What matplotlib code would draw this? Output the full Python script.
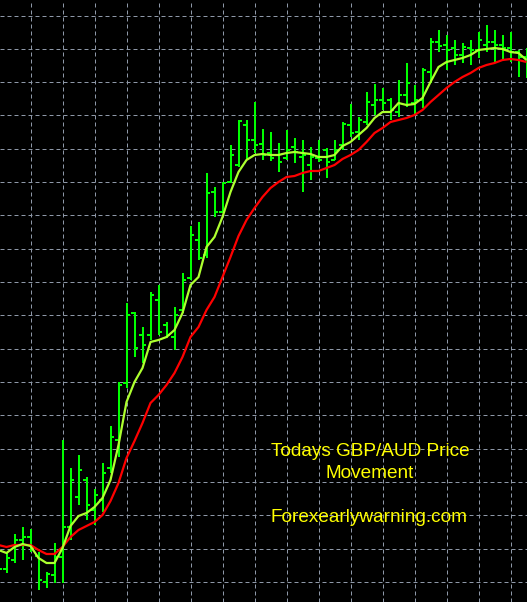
import matplotlib
matplotlib.use("Agg")
import matplotlib.pyplot as plt
import numpy as np

# ---- data (GBP/AUD, bar index 0 is the partly hidden leftmost bar) ----
opens = [1.8442, 1.8433, 1.8442, 1.8462, 1.8465, 1.8446, 1.8420, 1.8427, 1.8445, 1.8475,
         1.8505, 1.8522, 1.8492, 1.8502, 1.8534, 1.8562, 1.8619, 1.8689, 1.8667, 1.8667,
         1.8702, 1.8677, 1.8665, 1.8692, 1.8724, 1.8762, 1.8747, 1.8810, 1.8790, 1.8820,
         1.8837, 1.8877, 1.8862, 1.8858, 1.8849, 1.8847, 1.8844, 1.8855, 1.8845, 1.8837,
         1.8844, 1.8852, 1.8842, 1.8857, 1.8877, 1.8870, 1.8880, 1.8897, 1.8902, 1.8902,
         1.8890, 1.8907, 1.8899, 1.8902, 1.8930, 1.8960, 1.8957, 1.8954, 1.8947, 1.8954,
         1.8952, 1.8957, 1.8960, 1.8957, 1.8954, 1.8950, 1.8945]
highs = [1.8454, 1.8450, 1.8468, 1.8475, 1.8473, 1.8450, 1.8430, 1.8459, 1.8562, 1.8534,
         1.8547, 1.8525, 1.8513, 1.8539, 1.8576, 1.8620, 1.8699, 1.8690, 1.8675, 1.8710,
         1.8717, 1.8680, 1.8695, 1.8729, 1.8776, 1.8780, 1.8829, 1.8815, 1.8820, 1.8857,
         1.8882, 1.8882, 1.8900, 1.8873, 1.8870, 1.8859, 1.8872, 1.8864, 1.8862, 1.8855,
         1.8862, 1.8854, 1.8862, 1.8880, 1.8898, 1.8885, 1.8910, 1.8918, 1.8914, 1.8904,
         1.8922, 1.8939, 1.8917, 1.8934, 1.8964, 1.8972, 1.8967, 1.8962, 1.8959, 1.8962,
         1.8970, 1.8977, 1.8972, 1.8967, 1.8970, 1.8952, 1.8954]
lows = [1.8430, 1.8429, 1.8439, 1.8442, 1.8450, 1.8412, 1.8414, 1.8419, 1.8419, 1.8462,
        1.8497, 1.8482, 1.8477, 1.8490, 1.8529, 1.8545, 1.8614, 1.8645, 1.8639, 1.8662,
        1.8667, 1.8664, 1.8652, 1.8689, 1.8722, 1.8742, 1.8744, 1.8785, 1.8790, 1.8819,
        1.8835, 1.8842, 1.8849, 1.8842, 1.8841, 1.8830, 1.8842, 1.8839, 1.8810, 1.8822,
        1.8840, 1.8824, 1.8842, 1.8852, 1.8865, 1.8862, 1.8877, 1.8887, 1.8892, 1.8882,
        1.8885, 1.8895, 1.8887, 1.8894, 1.8919, 1.8950, 1.8932, 1.8937, 1.8939, 1.8937,
        1.8944, 1.8950, 1.8940, 1.8942, 1.8940, 1.8925, 1.8924]
closes = [1.8433, 1.8444, 1.8462, 1.8465, 1.8454, 1.8422, 1.8428, 1.8445, 1.8475, 1.8522,
          1.8532, 1.8497, 1.8507, 1.8529, 1.8565, 1.8617, 1.8687, 1.8654, 1.8657, 1.8707,
          1.8670, 1.8667, 1.8687, 1.8722, 1.8767, 1.8744, 1.8809, 1.8790, 1.8819, 1.8847,
          1.8881, 1.8862, 1.8857, 1.8847, 1.8844, 1.8840, 1.8852, 1.8850, 1.8847, 1.8845,
          1.8842, 1.8840, 1.8852, 1.8878, 1.8869, 1.8882, 1.8900, 1.8902, 1.8899, 1.8892,
          1.8907, 1.8919, 1.8902, 1.8932, 1.8960, 1.8956, 1.8952, 1.8947, 1.8955, 1.8952,
          1.8962, 1.8960, 1.8957, 1.8954, 1.8950, 1.8945, 1.8936]
ma_fast = [1.8452, 1.8449, 1.8455, 1.8458, 1.8456, 1.8444, 1.8439, 1.8439, 1.8454, 1.8476,
           1.8486, 1.8489, 1.8495, 1.8504, 1.8522, 1.8557, 1.8600, 1.8620, 1.8634, 1.8660,
           1.8662, 1.8665, 1.8672, 1.8689, 1.8717, 1.8725, 1.8755, 1.8765, 1.8785, 1.8810,
           1.8830, 1.8842, 1.8847, 1.8848, 1.8847, 1.8847, 1.8849, 1.8850, 1.8849, 1.8848,
           1.8845, 1.8845, 1.8847, 1.8856, 1.8860, 1.8867, 1.8874, 1.8884, 1.8890, 1.8890,
           1.8899, 1.8897, 1.8898, 1.8904, 1.8920, 1.8935, 1.8940, 1.8942, 1.8944, 1.8947,
           1.8952, 1.8953, 1.8954, 1.8953, 1.8950, 1.8949, 1.8942]
ma_slow = [1.8457, 1.8455, 1.8457, 1.8457, 1.8457, 1.8452, 1.8448, 1.8448, 1.8455, 1.8465,
           1.8472, 1.8476, 1.8480, 1.8487, 1.8501, 1.8519, 1.8544, 1.8561, 1.8579, 1.8599,
           1.8607, 1.8617, 1.8629, 1.8645, 1.8665, 1.8675, 1.8692, 1.8705, 1.8725, 1.8745,
           1.8766, 1.8782, 1.8794, 1.8805, 1.8814, 1.8820, 1.8825, 1.8826, 1.8829, 1.8831,
           1.8831, 1.8834, 1.8837, 1.8843, 1.8847, 1.8852, 1.8860, 1.8869, 1.8874, 1.8880,
           1.8882, 1.8884, 1.8887, 1.8892, 1.8900, 1.8907, 1.8914, 1.8920, 1.8925, 1.8929,
           1.8934, 1.8937, 1.8939, 1.8942, 1.8943, 1.8942, 1.8940]
title_lines = ["Todays GBP/AUD Price", "Movement"]
site_label = "Forexearlywarning.com"

# ---- figure ----
W, H, DPI = 527, 602, 100
fig = plt.figure(figsize=(W / DPI, H / DPI), dpi=DPI, facecolor="black")
ax = fig.add_axes([0, 0, 1, 1])
ax.set_facecolor("black")
for s in ax.spines.values():
    s.set_visible(False)
ax.set_xticks([])
ax.set_yticks([])

n = len(opens)
x = np.arange(n)
# 8 px per bar, bars centred on pixel centres
x_lo = 1.5 / 8.0
x_hi = (W + 1.5) / 8.0
y_lo, y_hi = 1.8400, 1.9002
ax.set_xlim(x_lo, x_hi)
ax.set_ylim(y_lo, y_hi)

# grid (fixed pixel spacing like the trading terminal)
grid_col = "#8e98a8"
px_y = (y_hi - y_lo) / H
onepx = 72.0 / DPI
for k in range(18):
    yv = y_hi - (15.5 + 33.333 * k) * px_y
    ax.axhline(yv, color=grid_col, lw=onepx, ls=(0, (4, 3)), snap=True, zorder=1)
for xv in range(4, n, 4):
    ax.axvline(xv, color=grid_col, lw=onepx, ls=(0, (4, 3)), snap=True, zorder=1)

# OHLC bars: one vertical stroke per bar (low-high), open tick left, close tick right
bar_col = "#00ff00"
tick = 0.4
for xi, o, h, l, c in zip(x, opens, highs, lows, closes):
    ax.plot([xi, xi], [l, h], color=bar_col, lw=1.1, antialiased=False,
            snap=True, solid_capstyle="butt", zorder=3)
    ax.plot([xi - tick, xi], [o, o], color=bar_col, lw=1.1, antialiased=False,
            snap=True, solid_capstyle="butt", zorder=3)
    ax.plot([xi, xi + tick], [c, c], color=bar_col, lw=1.1, antialiased=False,
            snap=True, solid_capstyle="butt", zorder=3)

# moving averages
ax.plot(x, ma_slow, color="#ff0000", lw=1.6, zorder=4, solid_capstyle="butt")
ax.plot(x, ma_fast, color="#adff2f", lw=1.6, zorder=5, solid_capstyle="butt")

# labels
txt_kw = dict(color="#ffff00", fontsize=13.7, family="Liberation Sans",
              ha="center", va="center", transform=fig.transFigure, zorder=6)
ax.text(370 / W, 1 - 452 / H, title_lines[0], **txt_kw)
ax.text(370 / W, 1 - 473 / H, title_lines[1], **txt_kw)
ax.text(369 / W, 1 - 518 / H, site_label, **txt_kw)

fig.savefig("out.png", dpi=DPI, facecolor="black")
